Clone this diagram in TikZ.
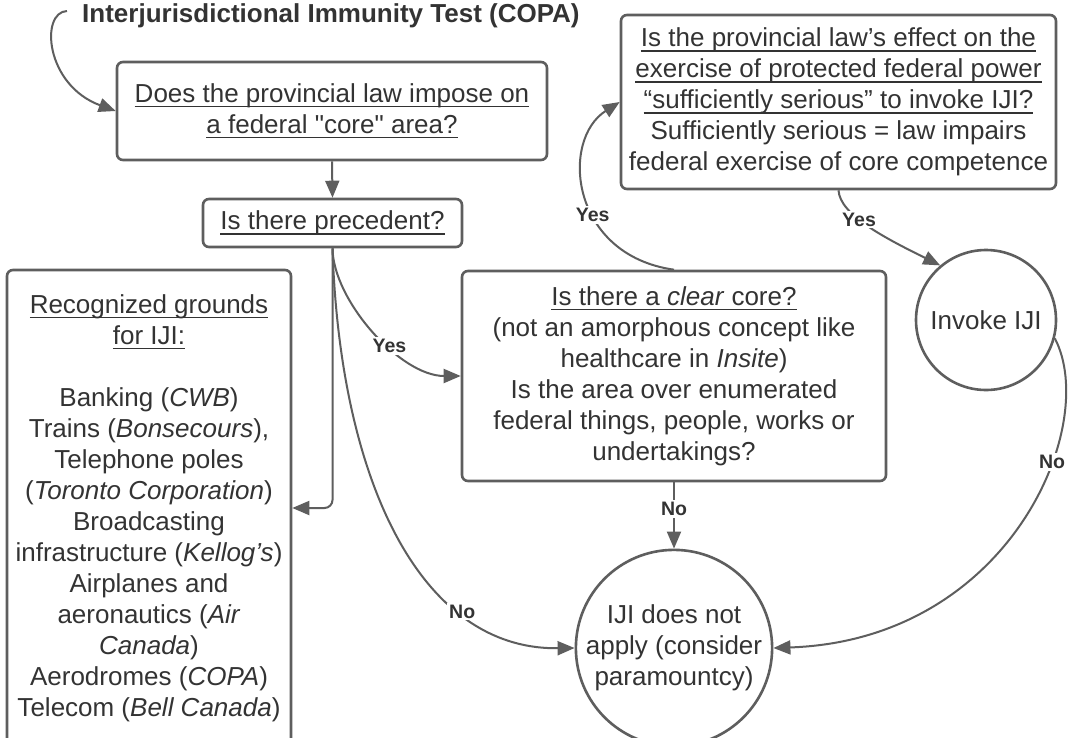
\documentclass[tikz,border=0pt]{standalone}
\usepackage{fontspec}
\setmainfont{Liberation Sans}[Ligatures=TeXOff]
\usetikzlibrary{arrows.meta}
\definecolor{ln}{HTML}{5E5E5E}
\definecolor{tx}{HTML}{333333}
\newcommand\myul[1]{\setbox0\hbox{#1}\rlap{\rule[-5pt]{\wd0}{1.6pt}}\box0}
\begin{document}
\begin{tikzpicture}[x=1pt,y=-1pt,
  box/.style={draw=ln, line width=2.6pt, rounded corners=6pt, align=center, text=tx, font=\fontsize{26}{31}\selectfont, inner sep=0pt},
  circ/.style={draw=ln, line width=2.6pt, circle, align=center, text=tx, font=\fontsize{26}{31}\selectfont, inner sep=0pt},
  arr/.style={draw=ln, line width=2pt, -{Triangle[length=17pt,width=14pt]}},
  lab/.style={fill=white, text=tx, font=\fontsize{19.5}{22}\selectfont\bfseries, inner sep=2pt}]
\fill[white] (0,0) rectangle (1069,737);
\useasboundingbox (0,0) rectangle (1069,737);

\node[anchor=base west, text=tx, font=\fontsize{26}{30}\selectfont\bfseries, inner sep=0pt] (title) at (82,22) {Interjurisdictional Immunity Test (COPA)};
\coordinate (s) at (67,11);

\node[box, minimum width=430pt, minimum height=98pt] (b1) at (332,111) {\myul{Does the provincial law impose on}\\\myul{a federal "core" area?}};
\node[box, minimum width=259pt, minimum height=48pt] (b2) at (332.5,223) {\myul{Is there precedent?}};
\node[box, minimum width=435pt, minimum height=174pt] (b3) at (838.5,102) {\myul{Is the provincial law’s effect on the}\\\myul{exercise of protected federal power}\\\myul{“sufficiently serious” to invoke IJI?}\\Sufficiently serious = law impairs\\federal exercise of core competence};
\node[box, minimum width=424pt, minimum height=210pt] (b4) at (674,376) {\myul{Is there a \textit{clear} core?}\\(not an amorphous concept like\\healthcare in \textit{Insite})\\Is the area over enumerated\\federal things, people, works or\\undertakings?};
\node[box, minimum width=284pt, minimum height=476pt] (b5) at (149,508) {\myul{Recognized grounds}\\\myul{for IJI:}\\[31pt]Banking (\textit{CWB})\\Trains (\textit{Bonsecours}),\\Telephone poles\\(\textit{Toronto Corporation})\\Broadcasting\\infrastructure (\textit{Kellog’s})\\Airplanes and\\aeronautics (\textit{Air}\\\textit{Canada})\\Aerodromes (\textit{COPA})\\Telecom (\textit{Bell Canada})};
\node[circ, minimum size=140pt] (invoke) at (986,320) {Invoke IJI};
\node[circ, minimum size=188pt] (iji) at (674,648) {IJI does not\\apply (consider\\paramountcy)};

\draw[arr] (s) .. controls (40,12) and (45,85) .. (b1.west);
\draw[arr] (b1.south) -- (b2.north);
\draw[arr, rounded corners=8pt] (b2.south) |- (b5.east);
\draw[arr] (b2.south) .. controls (333,300) and (400,376) .. node[lab,pos=0.6]{Yes} (b4.west);
\draw[arr] (b2.south) .. controls (340,480) and (420,650) .. node[lab,pos=0.72]{No} (iji.west);
\draw[arr] (b4.north) .. controls (570,255) and (560,140) .. node[lab,pos=0.4]{Yes} (b3.west);
\draw[arr] (b3.south) .. controls (840,215) and (885,238) .. node[lab,pos=0.4]{Yes} (invoke.130);
\draw[arr] (invoke.-15) .. controls (1100,425) and (1010,640) .. node[lab,pos=0.35]{No} (iji.east);
\draw[arr] (b4.south) -- node[lab,pos=0.4]{No} (iji.north);
\end{tikzpicture}
\end{document}
